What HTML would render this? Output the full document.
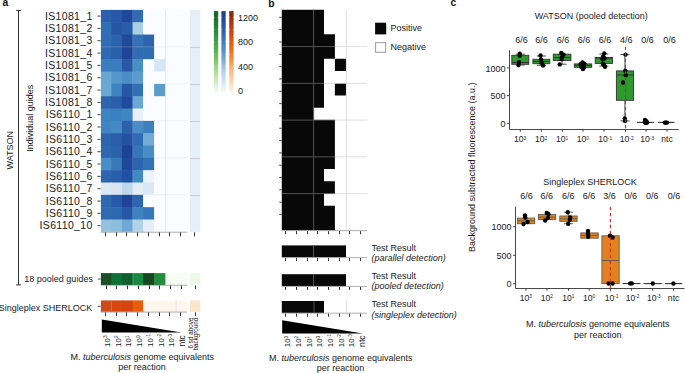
<!DOCTYPE html>
<html><head><meta charset="utf-8"><title>Figure</title>
<style>
html,body{margin:0;padding:0;background:#fff;width:685px;height:373px;overflow:hidden;}
svg{display:block;font-family:"Liberation Sans", sans-serif;}
</style></head>
<body><svg width="685" height="373" viewBox="0 0 685 373">
<rect x="0" y="0" width="685" height="373" fill="#fff"/>
<text x="2.40" y="6.00" font-size="10.3" text-anchor="start" font-style="normal" font-weight="bold" fill="#111" >a</text>
<line x1="18.50" y1="10.40" x2="18.50" y2="284.90" stroke="#333" stroke-width="1" />
<line x1="16.10" y1="10.40" x2="20.90" y2="10.40" stroke="#333" stroke-width="1" />
<line x1="16.10" y1="284.90" x2="20.90" y2="284.90" stroke="#333" stroke-width="1" />
<text x="0" y="0" font-size="9" text-anchor="middle" fill="#1a1a1a" transform="translate(12.9,150.2) rotate(-90)">WATSON</text>
<text x="0" y="0" font-size="9" text-anchor="middle" fill="#1a1a1a" transform="translate(33.3,118.2) rotate(-90)">Individual guides</text>
<rect x="100.90" y="9.90" width="11.10" height="12.93" fill="#2a5fae" />
<rect x="111.40" y="9.90" width="11.10" height="12.93" fill="#2858a8" />
<rect x="121.90" y="9.90" width="11.40" height="12.93" fill="#1f489c" />
<rect x="132.70" y="9.90" width="11.00" height="12.93" fill="#306cb4" />
<rect x="143.10" y="9.90" width="11.60" height="12.93" fill="#fafcff" />
<rect x="154.10" y="9.90" width="11.90" height="12.93" fill="#fafcff" />
<rect x="165.40" y="9.90" width="11.30" height="12.93" fill="#fafcff" />
<rect x="176.10" y="9.90" width="10.70" height="12.93" fill="#fafcff" />
<rect x="100.90" y="22.23" width="11.10" height="12.93" fill="#2f6db4" />
<rect x="111.40" y="22.23" width="11.10" height="12.93" fill="#2556a6" />
<rect x="121.90" y="22.23" width="11.40" height="12.93" fill="#2a5ca8" />
<rect x="132.70" y="22.23" width="11.00" height="12.93" fill="#a9cfe2" />
<rect x="143.10" y="22.23" width="11.60" height="12.93" fill="#fafcff" />
<rect x="154.10" y="22.23" width="11.90" height="12.93" fill="#fafcff" />
<rect x="165.40" y="22.23" width="11.30" height="12.93" fill="#fafcff" />
<rect x="176.10" y="22.23" width="10.70" height="12.93" fill="#fafcff" />
<rect x="100.90" y="34.56" width="11.10" height="12.93" fill="#2f6cb4" />
<rect x="111.40" y="34.56" width="11.10" height="12.93" fill="#2b63ad" />
<rect x="121.90" y="34.56" width="11.40" height="12.93" fill="#1f4a9c" />
<rect x="132.70" y="34.56" width="11.00" height="12.93" fill="#3472b8" />
<rect x="143.10" y="34.56" width="11.60" height="12.93" fill="#2d64ad" />
<rect x="154.10" y="34.56" width="11.90" height="12.93" fill="#fafcff" />
<rect x="165.40" y="34.56" width="11.30" height="12.93" fill="#fafcff" />
<rect x="176.10" y="34.56" width="10.70" height="12.93" fill="#fafcff" />
<rect x="100.90" y="46.89" width="11.10" height="12.93" fill="#2e6ab2" />
<rect x="111.40" y="46.89" width="11.10" height="12.93" fill="#2a60aa" />
<rect x="121.90" y="46.89" width="11.40" height="12.93" fill="#1e4597" />
<rect x="132.70" y="46.89" width="11.00" height="12.93" fill="#2f6cb3" />
<rect x="143.10" y="46.89" width="11.60" height="12.93" fill="#2f6cb3" />
<rect x="154.10" y="46.89" width="11.90" height="12.93" fill="#fafcff" />
<rect x="165.40" y="46.89" width="11.30" height="12.93" fill="#fafcff" />
<rect x="176.10" y="46.89" width="10.70" height="12.93" fill="#fafcff" />
<rect x="100.90" y="59.22" width="11.10" height="12.93" fill="#3a7cbe" />
<rect x="111.40" y="59.22" width="11.10" height="12.93" fill="#3a7cbe" />
<rect x="121.90" y="59.22" width="11.40" height="12.93" fill="#2858a8" />
<rect x="132.70" y="59.22" width="11.00" height="12.93" fill="#4a8ec6" />
<rect x="143.10" y="59.22" width="11.60" height="12.93" fill="#fafcff" />
<rect x="154.10" y="59.22" width="11.90" height="12.93" fill="#d7e6f5" />
<rect x="165.40" y="59.22" width="11.30" height="12.93" fill="#fafcff" />
<rect x="176.10" y="59.22" width="10.70" height="12.93" fill="#fafcff" />
<rect x="100.90" y="71.55" width="11.10" height="12.93" fill="#68a6d4" />
<rect x="111.40" y="71.55" width="11.10" height="12.93" fill="#5596cb" />
<rect x="121.90" y="71.55" width="11.40" height="12.93" fill="#4a8ec8" />
<rect x="132.70" y="71.55" width="11.00" height="12.93" fill="#5b9bcf" />
<rect x="143.10" y="71.55" width="11.60" height="12.93" fill="#fafcff" />
<rect x="154.10" y="71.55" width="11.90" height="12.93" fill="#fafcff" />
<rect x="165.40" y="71.55" width="11.30" height="12.93" fill="#fafcff" />
<rect x="176.10" y="71.55" width="10.70" height="12.93" fill="#fafcff" />
<rect x="100.90" y="83.88" width="11.10" height="12.93" fill="#6aa7d4" />
<rect x="111.40" y="83.88" width="11.10" height="12.93" fill="#3f82c0" />
<rect x="121.90" y="83.88" width="11.40" height="12.93" fill="#2656a6" />
<rect x="132.70" y="83.88" width="11.00" height="12.93" fill="#3270b6" />
<rect x="143.10" y="83.88" width="11.60" height="12.93" fill="#fafcff" />
<rect x="154.10" y="83.88" width="11.90" height="12.93" fill="#5b9dcb" />
<rect x="165.40" y="83.88" width="11.30" height="12.93" fill="#fafcff" />
<rect x="176.10" y="83.88" width="10.70" height="12.93" fill="#fafcff" />
<rect x="100.90" y="96.21" width="11.10" height="12.93" fill="#2c64ae" />
<rect x="111.40" y="96.21" width="11.10" height="12.93" fill="#2a5ea9" />
<rect x="121.90" y="96.21" width="11.40" height="12.93" fill="#1f4a9d" />
<rect x="132.70" y="96.21" width="11.00" height="12.93" fill="#6aa8d4" />
<rect x="143.10" y="96.21" width="11.60" height="12.93" fill="#fafcff" />
<rect x="154.10" y="96.21" width="11.90" height="12.93" fill="#fafcff" />
<rect x="165.40" y="96.21" width="11.30" height="12.93" fill="#fafcff" />
<rect x="176.10" y="96.21" width="10.70" height="12.93" fill="#fafcff" />
<rect x="100.90" y="108.54" width="11.10" height="12.93" fill="#3d84c2" />
<rect x="111.40" y="108.54" width="11.10" height="12.93" fill="#3a7fc0" />
<rect x="121.90" y="108.54" width="11.40" height="12.93" fill="#3e85c2" />
<rect x="132.70" y="108.54" width="11.00" height="12.93" fill="#e8f0f9" />
<rect x="143.10" y="108.54" width="11.60" height="12.93" fill="#fafcff" />
<rect x="154.10" y="108.54" width="11.90" height="12.93" fill="#fafcff" />
<rect x="165.40" y="108.54" width="11.30" height="12.93" fill="#fafcff" />
<rect x="176.10" y="108.54" width="10.70" height="12.93" fill="#fafcff" />
<rect x="100.90" y="120.87" width="11.10" height="12.93" fill="#3f85c3" />
<rect x="111.40" y="120.87" width="11.10" height="12.93" fill="#4489c5" />
<rect x="121.90" y="120.87" width="11.40" height="12.93" fill="#2c60ab" />
<rect x="132.70" y="120.87" width="11.00" height="12.93" fill="#4a8dc6" />
<rect x="143.10" y="120.87" width="11.60" height="12.93" fill="#3d80c0" />
<rect x="154.10" y="120.87" width="11.90" height="12.93" fill="#fafcff" />
<rect x="165.40" y="120.87" width="11.30" height="12.93" fill="#fafcff" />
<rect x="176.10" y="120.87" width="10.70" height="12.93" fill="#fafcff" />
<rect x="100.90" y="133.20" width="11.10" height="12.93" fill="#2c64ae" />
<rect x="111.40" y="133.20" width="11.10" height="12.93" fill="#2a5ea9" />
<rect x="121.90" y="133.20" width="11.40" height="12.93" fill="#2451a3" />
<rect x="132.70" y="133.20" width="11.00" height="12.93" fill="#306cb4" />
<rect x="143.10" y="133.20" width="11.60" height="12.93" fill="#70acd6" />
<rect x="154.10" y="133.20" width="11.90" height="12.93" fill="#fafcff" />
<rect x="165.40" y="133.20" width="11.30" height="12.93" fill="#fafcff" />
<rect x="176.10" y="133.20" width="10.70" height="12.93" fill="#fafcff" />
<rect x="100.90" y="145.53" width="11.10" height="12.93" fill="#2e68b1" />
<rect x="111.40" y="145.53" width="11.10" height="12.93" fill="#2c62ac" />
<rect x="121.90" y="145.53" width="11.40" height="12.93" fill="#1d4394" />
<rect x="132.70" y="145.53" width="11.00" height="12.93" fill="#3677bb" />
<rect x="143.10" y="145.53" width="11.60" height="12.93" fill="#4a8dc6" />
<rect x="154.10" y="145.53" width="11.90" height="12.93" fill="#fafcff" />
<rect x="165.40" y="145.53" width="11.30" height="12.93" fill="#fafcff" />
<rect x="176.10" y="145.53" width="10.70" height="12.93" fill="#fafcff" />
<rect x="100.90" y="157.86" width="11.10" height="12.93" fill="#4a8ec7" />
<rect x="111.40" y="157.86" width="11.10" height="12.93" fill="#3879bc" />
<rect x="121.90" y="157.86" width="11.40" height="12.93" fill="#1f4a9c" />
<rect x="132.70" y="157.86" width="11.00" height="12.93" fill="#2c64ae" />
<rect x="143.10" y="157.86" width="11.60" height="12.93" fill="#3172b7" />
<rect x="154.10" y="157.86" width="11.90" height="12.93" fill="#fafcff" />
<rect x="165.40" y="157.86" width="11.30" height="12.93" fill="#fafcff" />
<rect x="176.10" y="157.86" width="10.70" height="12.93" fill="#fafcff" />
<rect x="100.90" y="170.19" width="11.10" height="12.93" fill="#2c66af" />
<rect x="111.40" y="170.19" width="11.10" height="12.93" fill="#2a5fab" />
<rect x="121.90" y="170.19" width="11.40" height="12.93" fill="#2151a2" />
<rect x="132.70" y="170.19" width="11.00" height="12.93" fill="#4289c5" />
<rect x="143.10" y="170.19" width="11.60" height="12.93" fill="#edf3fb" />
<rect x="154.10" y="170.19" width="11.90" height="12.93" fill="#fafcff" />
<rect x="165.40" y="170.19" width="11.30" height="12.93" fill="#fafcff" />
<rect x="176.10" y="170.19" width="10.70" height="12.93" fill="#fafcff" />
<rect x="100.90" y="182.52" width="11.10" height="12.93" fill="#dde9f6" />
<rect x="111.40" y="182.52" width="11.10" height="12.93" fill="#d8e6f4" />
<rect x="121.90" y="182.52" width="11.40" height="12.93" fill="#bcd8ea" />
<rect x="132.70" y="182.52" width="11.00" height="12.93" fill="#e3edf8" />
<rect x="143.10" y="182.52" width="11.60" height="12.93" fill="#dae7f5" />
<rect x="154.10" y="182.52" width="11.90" height="12.93" fill="#fafcff" />
<rect x="165.40" y="182.52" width="11.30" height="12.93" fill="#fafcff" />
<rect x="176.10" y="182.52" width="10.70" height="12.93" fill="#fafcff" />
<rect x="100.90" y="194.85" width="11.10" height="12.93" fill="#2e6ab2" />
<rect x="111.40" y="194.85" width="11.10" height="12.93" fill="#2858a8" />
<rect x="121.90" y="194.85" width="11.40" height="12.93" fill="#1d4496" />
<rect x="132.70" y="194.85" width="11.00" height="12.93" fill="#2d66af" />
<rect x="143.10" y="194.85" width="11.60" height="12.93" fill="#fafcff" />
<rect x="154.10" y="194.85" width="11.90" height="12.93" fill="#fafcff" />
<rect x="165.40" y="194.85" width="11.30" height="12.93" fill="#fafcff" />
<rect x="176.10" y="194.85" width="10.70" height="12.93" fill="#fafcff" />
<rect x="100.90" y="207.18" width="11.10" height="12.93" fill="#2e6ab2" />
<rect x="111.40" y="207.18" width="11.10" height="12.93" fill="#2e68b1" />
<rect x="121.90" y="207.18" width="11.40" height="12.93" fill="#2656a6" />
<rect x="132.70" y="207.18" width="11.00" height="12.93" fill="#3d82c0" />
<rect x="143.10" y="207.18" width="11.60" height="12.93" fill="#3677bb" />
<rect x="154.10" y="207.18" width="11.90" height="12.93" fill="#fafcff" />
<rect x="165.40" y="207.18" width="11.30" height="12.93" fill="#fafcff" />
<rect x="176.10" y="207.18" width="10.70" height="12.93" fill="#fafcff" />
<rect x="100.90" y="219.51" width="11.10" height="12.33" fill="#92c2df" />
<rect x="111.40" y="219.51" width="11.10" height="12.33" fill="#8dbfdd" />
<rect x="121.90" y="219.51" width="11.40" height="12.33" fill="#6eaad5" />
<rect x="132.70" y="219.51" width="11.00" height="12.33" fill="#b3d3e8" />
<rect x="143.10" y="219.51" width="11.60" height="12.33" fill="#e6eff9" />
<rect x="154.10" y="219.51" width="11.90" height="12.33" fill="#fafcff" />
<rect x="165.40" y="219.51" width="11.30" height="12.33" fill="#fafcff" />
<rect x="176.10" y="219.51" width="10.70" height="12.33" fill="#fafcff" />
<rect x="190.10" y="9.90" width="10.10" height="221.94" fill="#e6eef9" />
<line x1="165.40" y1="9.90" x2="165.40" y2="231.84" stroke="#e2e4e8" stroke-width="0.8" />
<line x1="132.70" y1="9.90" x2="132.70" y2="231.84" stroke="rgba(255,255,255,0.18)" stroke-width="0.8" />
<line x1="100.80" y1="46.89" x2="186.80" y2="46.89" stroke="rgba(200,205,215,0.35)" stroke-width="0.8" />
<line x1="190.10" y1="47.59" x2="200.10" y2="47.59" stroke="#c6c9cf" stroke-width="0.9" />
<line x1="165.40" y1="83.88" x2="186.80" y2="83.88" stroke="rgba(200,205,215,0.35)" stroke-width="0.8" />
<line x1="190.10" y1="84.58" x2="200.10" y2="84.58" stroke="#c6c9cf" stroke-width="0.9" />
<line x1="154.10" y1="120.87" x2="186.80" y2="120.87" stroke="rgba(200,205,215,0.35)" stroke-width="0.8" />
<line x1="190.10" y1="121.57" x2="200.10" y2="121.57" stroke="#c6c9cf" stroke-width="0.9" />
<line x1="154.10" y1="157.86" x2="186.80" y2="157.86" stroke="rgba(200,205,215,0.35)" stroke-width="0.8" />
<line x1="190.10" y1="158.56" x2="200.10" y2="158.56" stroke="#c6c9cf" stroke-width="0.9" />
<line x1="154.10" y1="194.85" x2="186.80" y2="194.85" stroke="rgba(200,205,215,0.35)" stroke-width="0.8" />
<line x1="190.10" y1="195.55" x2="200.10" y2="195.55" stroke="#c6c9cf" stroke-width="0.9" />
<text x="92.60" y="19.82" font-size="10.5" text-anchor="end" font-style="normal" font-weight="normal" fill="#1a1a1a" letter-spacing="0.33">IS1081_1</text>
<line x1="97.40" y1="16.07" x2="100.60" y2="16.07" stroke="#333" stroke-width="0.9" />
<text x="92.60" y="32.15" font-size="10.5" text-anchor="end" font-style="normal" font-weight="normal" fill="#1a1a1a" letter-spacing="0.33">IS1081_2</text>
<line x1="97.40" y1="28.40" x2="100.60" y2="28.40" stroke="#333" stroke-width="0.9" />
<text x="92.60" y="44.48" font-size="10.5" text-anchor="end" font-style="normal" font-weight="normal" fill="#1a1a1a" letter-spacing="0.33">IS1081_3</text>
<line x1="97.40" y1="40.73" x2="100.60" y2="40.73" stroke="#333" stroke-width="0.9" />
<text x="92.60" y="56.80" font-size="10.5" text-anchor="end" font-style="normal" font-weight="normal" fill="#1a1a1a" letter-spacing="0.33">IS1081_4</text>
<line x1="97.40" y1="53.05" x2="100.60" y2="53.05" stroke="#333" stroke-width="0.9" />
<text x="92.60" y="69.14" font-size="10.5" text-anchor="end" font-style="normal" font-weight="normal" fill="#1a1a1a" letter-spacing="0.33">IS1081_5</text>
<line x1="97.40" y1="65.39" x2="100.60" y2="65.39" stroke="#333" stroke-width="0.9" />
<text x="92.60" y="81.47" font-size="10.5" text-anchor="end" font-style="normal" font-weight="normal" fill="#1a1a1a" letter-spacing="0.33">IS1081_6</text>
<line x1="97.40" y1="77.72" x2="100.60" y2="77.72" stroke="#333" stroke-width="0.9" />
<text x="92.60" y="93.80" font-size="10.5" text-anchor="end" font-style="normal" font-weight="normal" fill="#1a1a1a" letter-spacing="0.33">IS1081_7</text>
<line x1="97.40" y1="90.05" x2="100.60" y2="90.05" stroke="#333" stroke-width="0.9" />
<text x="92.60" y="106.12" font-size="10.5" text-anchor="end" font-style="normal" font-weight="normal" fill="#1a1a1a" letter-spacing="0.33">IS1081_8</text>
<line x1="97.40" y1="102.38" x2="100.60" y2="102.38" stroke="#333" stroke-width="0.9" />
<text x="92.60" y="118.46" font-size="10.5" text-anchor="end" font-style="normal" font-weight="normal" fill="#1a1a1a" letter-spacing="0.33">IS6110_1</text>
<line x1="97.40" y1="114.71" x2="100.60" y2="114.71" stroke="#333" stroke-width="0.9" />
<text x="92.60" y="130.79" font-size="10.5" text-anchor="end" font-style="normal" font-weight="normal" fill="#1a1a1a" letter-spacing="0.33">IS6110_2</text>
<line x1="97.40" y1="127.04" x2="100.60" y2="127.04" stroke="#333" stroke-width="0.9" />
<text x="92.60" y="143.12" font-size="10.5" text-anchor="end" font-style="normal" font-weight="normal" fill="#1a1a1a" letter-spacing="0.33">IS6110_3</text>
<line x1="97.40" y1="139.37" x2="100.60" y2="139.37" stroke="#333" stroke-width="0.9" />
<text x="92.60" y="155.44" font-size="10.5" text-anchor="end" font-style="normal" font-weight="normal" fill="#1a1a1a" letter-spacing="0.33">IS6110_4</text>
<line x1="97.40" y1="151.69" x2="100.60" y2="151.69" stroke="#333" stroke-width="0.9" />
<text x="92.60" y="167.78" font-size="10.5" text-anchor="end" font-style="normal" font-weight="normal" fill="#1a1a1a" letter-spacing="0.33">IS6110_5</text>
<line x1="97.40" y1="164.03" x2="100.60" y2="164.03" stroke="#333" stroke-width="0.9" />
<text x="92.60" y="180.11" font-size="10.5" text-anchor="end" font-style="normal" font-weight="normal" fill="#1a1a1a" letter-spacing="0.33">IS6110_6</text>
<line x1="97.40" y1="176.36" x2="100.60" y2="176.36" stroke="#333" stroke-width="0.9" />
<text x="92.60" y="192.44" font-size="10.5" text-anchor="end" font-style="normal" font-weight="normal" fill="#1a1a1a" letter-spacing="0.33">IS6110_7</text>
<line x1="97.40" y1="188.69" x2="100.60" y2="188.69" stroke="#333" stroke-width="0.9" />
<text x="92.60" y="204.77" font-size="10.5" text-anchor="end" font-style="normal" font-weight="normal" fill="#1a1a1a" letter-spacing="0.33">IS6110_8</text>
<line x1="97.40" y1="201.02" x2="100.60" y2="201.02" stroke="#333" stroke-width="0.9" />
<text x="92.60" y="217.09" font-size="10.5" text-anchor="end" font-style="normal" font-weight="normal" fill="#1a1a1a" letter-spacing="0.33">IS6110_9</text>
<line x1="97.40" y1="213.34" x2="100.60" y2="213.34" stroke="#333" stroke-width="0.9" />
<text x="92.60" y="229.43" font-size="10.5" text-anchor="end" font-style="normal" font-weight="normal" fill="#1a1a1a" letter-spacing="0.33">IS6110_10</text>
<line x1="97.40" y1="225.68" x2="100.60" y2="225.68" stroke="#333" stroke-width="0.9" />
<line x1="100.60" y1="232.24" x2="187.06" y2="232.24" stroke="#9a9a9a" stroke-width="0.8" />
<line x1="105.50" y1="232.34" x2="105.50" y2="236.34" stroke="#333" stroke-width="1"/>
<line x1="116.50" y1="232.34" x2="116.50" y2="236.34" stroke="#333" stroke-width="1"/>
<line x1="126.50" y1="232.34" x2="126.50" y2="236.34" stroke="#333" stroke-width="1"/>
<line x1="137.50" y1="232.34" x2="137.50" y2="236.34" stroke="#333" stroke-width="1"/>
<line x1="148.50" y1="232.34" x2="148.50" y2="236.34" stroke="#333" stroke-width="1"/>
<line x1="159.50" y1="232.34" x2="159.50" y2="236.34" stroke="#333" stroke-width="1"/>
<line x1="169.50" y1="232.34" x2="169.50" y2="236.34" stroke="#333" stroke-width="1"/>
<line x1="180.50" y1="232.34" x2="180.50" y2="236.34" stroke="#333" stroke-width="1"/>
<line x1="194.50" y1="232.34" x2="194.50" y2="236.34" stroke="#333" stroke-width="1"/>
<defs>
<linearGradient id="gG" x1="0" y1="0" x2="0" y2="1"><stop offset="0" stop-color="#11622c"/><stop offset="0.25" stop-color="#2a8a3c"/><stop offset="0.5" stop-color="#5bb54f"/><stop offset="0.75" stop-color="#b0e09a"/><stop offset="1" stop-color="#f7fcf5"/></linearGradient>
<linearGradient id="gB" x1="0" y1="0" x2="0" y2="1"><stop offset="0" stop-color="#1f3a8a"/><stop offset="0.25" stop-color="#2b62ad"/><stop offset="0.5" stop-color="#5295cc"/><stop offset="0.75" stop-color="#b4d3ea"/><stop offset="1" stop-color="#f7fbff"/></linearGradient>
<linearGradient id="gO" x1="0" y1="0" x2="0" y2="1"><stop offset="0" stop-color="#7f2a0a"/><stop offset="0.25" stop-color="#cf440c"/><stop offset="0.5" stop-color="#f2761c"/><stop offset="0.75" stop-color="#fdbf8a"/><stop offset="1" stop-color="#fff5eb"/></linearGradient>
</defs>
<rect x="213.90" y="11.10" width="4.30" height="81.60" fill="url(#gG)" />
<rect x="221.40" y="11.10" width="4.30" height="81.60" fill="url(#gB)" />
<rect x="229.20" y="11.10" width="4.40" height="81.60" fill="url(#gO)" />
<text x="237.90" y="20.50" font-size="9" text-anchor="start" font-style="normal" font-weight="normal" fill="#1a1a1a" >1200</text>
<text x="237.90" y="45.03" font-size="9" text-anchor="start" font-style="normal" font-weight="normal" fill="#1a1a1a" >800</text>
<text x="237.90" y="69.57" font-size="9" text-anchor="start" font-style="normal" font-weight="normal" fill="#1a1a1a" >400</text>
<text x="237.90" y="94.10" font-size="9" text-anchor="start" font-style="normal" font-weight="normal" fill="#1a1a1a" >0</text>
<line x1="213.90" y1="90.90" x2="214.80" y2="90.90" stroke="rgba(255,255,255,0.6)" stroke-width="0.6" />
<line x1="217.40" y1="90.90" x2="218.30" y2="90.90" stroke="rgba(255,255,255,0.6)" stroke-width="0.6" />
<line x1="221.40" y1="90.90" x2="222.30" y2="90.90" stroke="rgba(255,255,255,0.6)" stroke-width="0.6" />
<line x1="224.90" y1="90.90" x2="225.80" y2="90.90" stroke="rgba(255,255,255,0.6)" stroke-width="0.6" />
<line x1="229.20" y1="90.90" x2="230.10" y2="90.90" stroke="rgba(255,255,255,0.6)" stroke-width="0.6" />
<line x1="232.70" y1="90.90" x2="233.60" y2="90.90" stroke="rgba(255,255,255,0.6)" stroke-width="0.6" />
<line x1="213.90" y1="78.63" x2="214.80" y2="78.63" stroke="rgba(255,255,255,0.6)" stroke-width="0.6" />
<line x1="217.40" y1="78.63" x2="218.30" y2="78.63" stroke="rgba(255,255,255,0.6)" stroke-width="0.6" />
<line x1="221.40" y1="78.63" x2="222.30" y2="78.63" stroke="rgba(255,255,255,0.6)" stroke-width="0.6" />
<line x1="224.90" y1="78.63" x2="225.80" y2="78.63" stroke="rgba(255,255,255,0.6)" stroke-width="0.6" />
<line x1="229.20" y1="78.63" x2="230.10" y2="78.63" stroke="rgba(255,255,255,0.6)" stroke-width="0.6" />
<line x1="232.70" y1="78.63" x2="233.60" y2="78.63" stroke="rgba(255,255,255,0.6)" stroke-width="0.6" />
<line x1="213.90" y1="66.37" x2="214.80" y2="66.37" stroke="rgba(255,255,255,0.6)" stroke-width="0.6" />
<line x1="217.40" y1="66.37" x2="218.30" y2="66.37" stroke="rgba(255,255,255,0.6)" stroke-width="0.6" />
<line x1="221.40" y1="66.37" x2="222.30" y2="66.37" stroke="rgba(255,255,255,0.6)" stroke-width="0.6" />
<line x1="224.90" y1="66.37" x2="225.80" y2="66.37" stroke="rgba(255,255,255,0.6)" stroke-width="0.6" />
<line x1="229.20" y1="66.37" x2="230.10" y2="66.37" stroke="rgba(255,255,255,0.6)" stroke-width="0.6" />
<line x1="232.70" y1="66.37" x2="233.60" y2="66.37" stroke="rgba(255,255,255,0.6)" stroke-width="0.6" />
<line x1="213.90" y1="54.10" x2="214.80" y2="54.10" stroke="rgba(255,255,255,0.6)" stroke-width="0.6" />
<line x1="217.40" y1="54.10" x2="218.30" y2="54.10" stroke="rgba(255,255,255,0.6)" stroke-width="0.6" />
<line x1="221.40" y1="54.10" x2="222.30" y2="54.10" stroke="rgba(255,255,255,0.6)" stroke-width="0.6" />
<line x1="224.90" y1="54.10" x2="225.80" y2="54.10" stroke="rgba(255,255,255,0.6)" stroke-width="0.6" />
<line x1="229.20" y1="54.10" x2="230.10" y2="54.10" stroke="rgba(255,255,255,0.6)" stroke-width="0.6" />
<line x1="232.70" y1="54.10" x2="233.60" y2="54.10" stroke="rgba(255,255,255,0.6)" stroke-width="0.6" />
<line x1="213.90" y1="41.83" x2="214.80" y2="41.83" stroke="rgba(255,255,255,0.6)" stroke-width="0.6" />
<line x1="217.40" y1="41.83" x2="218.30" y2="41.83" stroke="rgba(255,255,255,0.6)" stroke-width="0.6" />
<line x1="221.40" y1="41.83" x2="222.30" y2="41.83" stroke="rgba(255,255,255,0.6)" stroke-width="0.6" />
<line x1="224.90" y1="41.83" x2="225.80" y2="41.83" stroke="rgba(255,255,255,0.6)" stroke-width="0.6" />
<line x1="229.20" y1="41.83" x2="230.10" y2="41.83" stroke="rgba(255,255,255,0.6)" stroke-width="0.6" />
<line x1="232.70" y1="41.83" x2="233.60" y2="41.83" stroke="rgba(255,255,255,0.6)" stroke-width="0.6" />
<line x1="213.90" y1="29.57" x2="214.80" y2="29.57" stroke="rgba(255,255,255,0.6)" stroke-width="0.6" />
<line x1="217.40" y1="29.57" x2="218.30" y2="29.57" stroke="rgba(255,255,255,0.6)" stroke-width="0.6" />
<line x1="221.40" y1="29.57" x2="222.30" y2="29.57" stroke="rgba(255,255,255,0.6)" stroke-width="0.6" />
<line x1="224.90" y1="29.57" x2="225.80" y2="29.57" stroke="rgba(255,255,255,0.6)" stroke-width="0.6" />
<line x1="229.20" y1="29.57" x2="230.10" y2="29.57" stroke="rgba(255,255,255,0.6)" stroke-width="0.6" />
<line x1="232.70" y1="29.57" x2="233.60" y2="29.57" stroke="rgba(255,255,255,0.6)" stroke-width="0.6" />
<line x1="213.90" y1="17.30" x2="214.80" y2="17.30" stroke="rgba(255,255,255,0.6)" stroke-width="0.6" />
<line x1="217.40" y1="17.30" x2="218.30" y2="17.30" stroke="rgba(255,255,255,0.6)" stroke-width="0.6" />
<line x1="221.40" y1="17.30" x2="222.30" y2="17.30" stroke="rgba(255,255,255,0.6)" stroke-width="0.6" />
<line x1="224.90" y1="17.30" x2="225.80" y2="17.30" stroke="rgba(255,255,255,0.6)" stroke-width="0.6" />
<line x1="229.20" y1="17.30" x2="230.10" y2="17.30" stroke="rgba(255,255,255,0.6)" stroke-width="0.6" />
<line x1="232.70" y1="17.30" x2="233.60" y2="17.30" stroke="rgba(255,255,255,0.6)" stroke-width="0.6" />
<rect x="100.90" y="273.10" width="11.10" height="11.90" fill="#1a4f26" />
<rect x="111.40" y="273.10" width="11.10" height="11.90" fill="#0e7135" />
<rect x="121.90" y="273.10" width="11.40" height="11.90" fill="#0f5f30" />
<rect x="132.70" y="273.10" width="11.00" height="11.90" fill="#178a3f" />
<rect x="143.10" y="273.10" width="11.60" height="11.90" fill="#17461f" />
<rect x="154.10" y="273.10" width="11.90" height="11.90" fill="#238b3c" />
<rect x="165.40" y="273.10" width="11.30" height="11.90" fill="#f7fcf5" />
<rect x="176.10" y="273.10" width="10.70" height="11.90" fill="#f7fcf5" />
<rect x="189.80" y="273.10" width="10.50" height="11.90" fill="#ecf8e8" />
<line x1="133.00" y1="273.10" x2="133.00" y2="285.00" stroke="rgba(255,255,255,0.25)" stroke-width="0.8" />
<line x1="100.60" y1="285.30" x2="187.06" y2="285.30" stroke="#9a9a9a" stroke-width="0.8" />
<line x1="106.50" y1="285.50" x2="106.50" y2="289.20" stroke="#333" stroke-width="1"/>
<line x1="116.50" y1="285.50" x2="116.50" y2="289.20" stroke="#333" stroke-width="1"/>
<line x1="127.50" y1="285.50" x2="127.50" y2="289.20" stroke="#333" stroke-width="1"/>
<line x1="138.50" y1="285.50" x2="138.50" y2="289.20" stroke="#333" stroke-width="1"/>
<line x1="149.50" y1="285.50" x2="149.50" y2="289.20" stroke="#333" stroke-width="1"/>
<line x1="159.50" y1="285.50" x2="159.50" y2="289.20" stroke="#333" stroke-width="1"/>
<line x1="170.50" y1="285.50" x2="170.50" y2="289.20" stroke="#333" stroke-width="1"/>
<line x1="181.50" y1="285.50" x2="181.50" y2="289.20" stroke="#333" stroke-width="1"/>
<line x1="195.50" y1="285.50" x2="195.50" y2="289.20" stroke="#333" stroke-width="1"/>
<line x1="97.80" y1="279.00" x2="100.60" y2="279.00" stroke="#333" stroke-width="0.9" />
<text x="92.90" y="281.90" font-size="9" text-anchor="end" font-style="normal" font-weight="normal" fill="#1a1a1a" >18 pooled guides</text>
<rect x="100.90" y="300.40" width="11.10" height="11.40" fill="#d04a18" />
<rect x="111.40" y="300.40" width="11.10" height="11.40" fill="#d9470f" />
<rect x="121.90" y="300.40" width="11.40" height="11.40" fill="#d5460f" />
<rect x="132.70" y="300.40" width="11.00" height="11.40" fill="#e85d0c" />
<rect x="143.10" y="300.40" width="11.60" height="11.40" fill="#fff6ee" />
<rect x="154.10" y="300.40" width="11.90" height="11.40" fill="#fff6ee" />
<rect x="165.40" y="300.40" width="11.30" height="11.40" fill="#fff6ee" />
<rect x="176.10" y="300.40" width="10.70" height="11.40" fill="#fff6ee" />
<rect x="190.00" y="300.40" width="10.30" height="11.40" fill="#fde6cc" />
<line x1="111.40" y1="300.40" x2="111.40" y2="311.80" stroke="rgba(255,255,255,0.25)" stroke-width="0.8" />
<line x1="176.10" y1="300.40" x2="176.10" y2="311.80" stroke="rgba(200,190,180,0.4)" stroke-width="0.8" />
<line x1="100.60" y1="312.10" x2="187.06" y2="312.10" stroke="#9a9a9a" stroke-width="0.8" />
<line x1="105.50" y1="312.40" x2="105.50" y2="316.10" stroke="#333" stroke-width="1"/>
<line x1="116.50" y1="312.40" x2="116.50" y2="316.10" stroke="#333" stroke-width="1"/>
<line x1="126.50" y1="312.40" x2="126.50" y2="316.10" stroke="#333" stroke-width="1"/>
<line x1="137.50" y1="312.40" x2="137.50" y2="316.10" stroke="#333" stroke-width="1"/>
<line x1="148.50" y1="312.40" x2="148.50" y2="316.10" stroke="#333" stroke-width="1"/>
<line x1="159.50" y1="312.40" x2="159.50" y2="316.10" stroke="#333" stroke-width="1"/>
<line x1="169.50" y1="312.40" x2="169.50" y2="316.10" stroke="#333" stroke-width="1"/>
<line x1="180.50" y1="312.40" x2="180.50" y2="316.10" stroke="#333" stroke-width="1"/>
<line x1="195.50" y1="312.40" x2="195.50" y2="316.10" stroke="#333" stroke-width="1"/>
<line x1="97.80" y1="306.30" x2="100.60" y2="306.30" stroke="#333" stroke-width="0.9" />
<text x="92.30" y="310.50" font-size="9" text-anchor="end" font-style="normal" font-weight="normal" fill="#1a1a1a" >Singleplex SHERLOCK</text>
<polygon points="101.8,319.6 101.8,332.4 181.4,332.4" fill="#000"/>
<text x="0" y="0" font-size="7.9" text-anchor="start" fill="#1a1a1a" transform="translate(109.90,346.90) rotate(-90)">10<tspan font-size="4.7" dy="-2.5">3</tspan></text>
<text x="0" y="0" font-size="7.9" text-anchor="start" fill="#1a1a1a" transform="translate(120.64,346.90) rotate(-90)">10<tspan font-size="4.7" dy="-2.5">2</tspan></text>
<text x="0" y="0" font-size="7.9" text-anchor="start" fill="#1a1a1a" transform="translate(131.38,346.90) rotate(-90)">10<tspan font-size="4.7" dy="-2.5">1</tspan></text>
<text x="0" y="0" font-size="7.9" text-anchor="start" fill="#1a1a1a" transform="translate(142.12,346.90) rotate(-90)">10<tspan font-size="4.7" dy="-2.5">0</tspan></text>
<text x="0" y="0" font-size="7.9" text-anchor="start" fill="#1a1a1a" transform="translate(152.86,346.90) rotate(-90)">10<tspan font-size="4.7" dy="-2.5">-1</tspan></text>
<text x="0" y="0" font-size="7.9" text-anchor="start" fill="#1a1a1a" transform="translate(163.60,346.90) rotate(-90)">10<tspan font-size="4.7" dy="-2.5">-2</tspan></text>
<text x="0" y="0" font-size="7.9" text-anchor="start" fill="#1a1a1a" transform="translate(174.34,346.90) rotate(-90)">10<tspan font-size="4.7" dy="-2.5">-3</tspan></text>
<text x="0" y="0" font-size="8.6" text-anchor="start" fill="#1a1a1a" transform="translate(184.98,346.60) rotate(-90)">ntc</text>
<text x="0" y="0" font-size="6.3" text-anchor="end" fill="#111" transform="translate(193.0,317.7) rotate(-90)">6 sd above</text>
<text x="0" y="0" font-size="6.3" text-anchor="end" fill="#111" transform="translate(197.6,317.7) rotate(-90)">background</text>
<text x="142.20" y="360.20" font-size="9" text-anchor="middle" font-style="normal" font-weight="normal" fill="#1a1a1a" >M. <tspan font-style="italic">tuberculosis</tspan> genome equivalents</text>
<text x="141.90" y="370.30" font-size="9" text-anchor="middle" font-style="normal" font-weight="normal" fill="#1a1a1a" >per reaction</text>
<text x="268.20" y="6.60" font-size="10.3" text-anchor="start" font-style="normal" font-weight="bold" fill="#111" >b</text>
<path d="M281.80,9.85H324.00v12.25H281.80z M281.80,22.10H324.00v12.25H281.80z M281.80,34.35H334.90v12.25H281.80z M281.80,46.60H334.90v12.25H281.80z M281.80,58.85H324.00v12.25H281.80z M334.90,58.85H346.00v12.25H334.90z M281.80,71.10H324.00v12.25H281.80z M281.80,83.35H324.00v12.25H281.80z M334.90,83.35H346.00v12.25H334.90z M281.80,95.60H324.00v12.25H281.80z M281.80,107.85H313.60v12.25H281.80z M281.80,120.10H334.90v12.25H281.80z M281.80,132.35H334.90v12.25H281.80z M281.80,144.60H334.90v12.25H281.80z M281.80,156.85H334.90v12.25H281.80z M281.80,169.10H324.00v12.25H281.80z M281.80,181.35H334.90v12.25H281.80z M281.80,193.60H324.00v12.25H281.80z M281.80,205.85H334.90v12.25H281.80z M281.80,218.10H334.90v12.25H281.80z" fill="#080808"/>
<line x1="313.60" y1="9.85" x2="313.60" y2="230.35" stroke="#5a5a5a" stroke-width="0.9" />
<line x1="346.40" y1="9.85" x2="346.40" y2="230.35" stroke="#d8d8d8" stroke-width="0.8" />
<line x1="281.80" y1="46.60" x2="334.90" y2="46.60" stroke="#5a5a5a" stroke-width="0.9" />
<line x1="334.90" y1="46.60" x2="367.20" y2="46.60" stroke="#d8d8d8" stroke-width="0.8" />
<line x1="281.80" y1="83.35" x2="324.00" y2="83.35" stroke="#5a5a5a" stroke-width="0.9" />
<line x1="324.00" y1="83.35" x2="367.20" y2="83.35" stroke="#d8d8d8" stroke-width="0.8" />
<line x1="281.80" y1="120.10" x2="334.90" y2="120.10" stroke="#5a5a5a" stroke-width="0.9" />
<line x1="334.90" y1="120.10" x2="367.20" y2="120.10" stroke="#d8d8d8" stroke-width="0.8" />
<line x1="281.80" y1="156.85" x2="334.90" y2="156.85" stroke="#5a5a5a" stroke-width="0.9" />
<line x1="334.90" y1="156.85" x2="367.20" y2="156.85" stroke="#d8d8d8" stroke-width="0.8" />
<line x1="281.80" y1="193.60" x2="334.90" y2="193.60" stroke="#5a5a5a" stroke-width="0.9" />
<line x1="334.90" y1="193.60" x2="367.20" y2="193.60" stroke="#d8d8d8" stroke-width="0.8" />
<line x1="279.20" y1="17.35" x2="281.80" y2="17.35" stroke="#333" stroke-width="0.9" />
<line x1="279.20" y1="29.67" x2="281.80" y2="29.67" stroke="#333" stroke-width="0.9" />
<line x1="279.20" y1="41.99" x2="281.80" y2="41.99" stroke="#333" stroke-width="0.9" />
<line x1="279.20" y1="54.31" x2="281.80" y2="54.31" stroke="#333" stroke-width="0.9" />
<line x1="279.20" y1="66.63" x2="281.80" y2="66.63" stroke="#333" stroke-width="0.9" />
<line x1="279.20" y1="78.95" x2="281.80" y2="78.95" stroke="#333" stroke-width="0.9" />
<line x1="279.20" y1="91.27" x2="281.80" y2="91.27" stroke="#333" stroke-width="0.9" />
<line x1="279.20" y1="103.59" x2="281.80" y2="103.59" stroke="#333" stroke-width="0.9" />
<line x1="279.20" y1="115.91" x2="281.80" y2="115.91" stroke="#333" stroke-width="0.9" />
<line x1="279.20" y1="128.23" x2="281.80" y2="128.23" stroke="#333" stroke-width="0.9" />
<line x1="279.20" y1="140.55" x2="281.80" y2="140.55" stroke="#333" stroke-width="0.9" />
<line x1="279.20" y1="152.87" x2="281.80" y2="152.87" stroke="#333" stroke-width="0.9" />
<line x1="279.20" y1="165.19" x2="281.80" y2="165.19" stroke="#333" stroke-width="0.9" />
<line x1="279.20" y1="177.51" x2="281.80" y2="177.51" stroke="#333" stroke-width="0.9" />
<line x1="279.20" y1="189.83" x2="281.80" y2="189.83" stroke="#333" stroke-width="0.9" />
<line x1="279.20" y1="202.15" x2="281.80" y2="202.15" stroke="#333" stroke-width="0.9" />
<line x1="279.20" y1="214.47" x2="281.80" y2="214.47" stroke="#333" stroke-width="0.9" />
<line x1="281.80" y1="230.65" x2="367.08" y2="230.65" stroke="#9a9a9a" stroke-width="0.8" />
<line x1="285.50" y1="231.15" x2="285.50" y2="234.15" stroke="#333" stroke-width="1"/>
<line x1="296.50" y1="231.15" x2="296.50" y2="234.15" stroke="#333" stroke-width="1"/>
<line x1="307.50" y1="231.15" x2="307.50" y2="234.15" stroke="#333" stroke-width="1"/>
<line x1="317.50" y1="231.15" x2="317.50" y2="234.15" stroke="#333" stroke-width="1"/>
<line x1="328.50" y1="231.15" x2="328.50" y2="234.15" stroke="#333" stroke-width="1"/>
<line x1="339.50" y1="231.15" x2="339.50" y2="234.15" stroke="#333" stroke-width="1"/>
<line x1="349.50" y1="231.15" x2="349.50" y2="234.15" stroke="#333" stroke-width="1"/>
<line x1="360.50" y1="231.15" x2="360.50" y2="234.15" stroke="#333" stroke-width="1"/>
<rect x="375.10" y="22.70" width="11.10" height="11.70" fill="#080808" />
<rect x="375.60" y="42.70" width="10.10" height="9.60" fill="#fff" stroke="#999" stroke-width="1"/>
<text x="390.60" y="30.90" font-size="9" text-anchor="start" font-style="normal" font-weight="normal" fill="#1a1a1a" >Positive</text>
<text x="390.60" y="49.70" font-size="9" text-anchor="start" font-style="normal" font-weight="normal" fill="#1a1a1a" >Negative</text>
<rect x="281.80" y="245.40" width="64.20" height="11.90" fill="#080808" />
<line x1="313.50" y1="245.40" x2="313.50" y2="257.30" stroke="#5a5a5a" stroke-width="0.9" />
<line x1="281.80" y1="257.60" x2="367.08" y2="257.60" stroke="#9a9a9a" stroke-width="0.8" />
<line x1="285.50" y1="258.10" x2="285.50" y2="261.10" stroke="#333" stroke-width="1"/>
<line x1="296.50" y1="258.10" x2="296.50" y2="261.10" stroke="#333" stroke-width="1"/>
<line x1="307.50" y1="258.10" x2="307.50" y2="261.10" stroke="#333" stroke-width="1"/>
<line x1="317.50" y1="258.10" x2="317.50" y2="261.10" stroke="#333" stroke-width="1"/>
<line x1="328.50" y1="258.10" x2="328.50" y2="261.10" stroke="#333" stroke-width="1"/>
<line x1="339.50" y1="258.10" x2="339.50" y2="261.10" stroke="#333" stroke-width="1"/>
<line x1="349.50" y1="258.10" x2="349.50" y2="261.10" stroke="#333" stroke-width="1"/>
<line x1="360.50" y1="258.10" x2="360.50" y2="261.10" stroke="#333" stroke-width="1"/>
<text x="371.60" y="250.50" font-size="9" text-anchor="start" font-style="normal" font-weight="normal" fill="#1a1a1a" >Test Result</text>
<text x="371.60" y="260.50" font-size="9" text-anchor="start" font-style="italic" font-weight="normal" fill="#1a1a1a" >(parallel detection)</text>
<rect x="281.80" y="274.20" width="64.20" height="11.90" fill="#080808" />
<line x1="313.50" y1="274.20" x2="313.50" y2="286.10" stroke="#5a5a5a" stroke-width="0.9" />
<line x1="281.80" y1="286.40" x2="367.08" y2="286.40" stroke="#9a9a9a" stroke-width="0.8" />
<line x1="285.50" y1="286.90" x2="285.50" y2="289.90" stroke="#333" stroke-width="1"/>
<line x1="296.50" y1="286.90" x2="296.50" y2="289.90" stroke="#333" stroke-width="1"/>
<line x1="307.50" y1="286.90" x2="307.50" y2="289.90" stroke="#333" stroke-width="1"/>
<line x1="317.50" y1="286.90" x2="317.50" y2="289.90" stroke="#333" stroke-width="1"/>
<line x1="328.50" y1="286.90" x2="328.50" y2="289.90" stroke="#333" stroke-width="1"/>
<line x1="339.50" y1="286.90" x2="339.50" y2="289.90" stroke="#333" stroke-width="1"/>
<line x1="349.50" y1="286.90" x2="349.50" y2="289.90" stroke="#333" stroke-width="1"/>
<line x1="360.50" y1="286.90" x2="360.50" y2="289.90" stroke="#333" stroke-width="1"/>
<text x="371.60" y="279.30" font-size="9" text-anchor="start" font-style="normal" font-weight="normal" fill="#1a1a1a" >Test Result</text>
<text x="371.60" y="289.30" font-size="9" text-anchor="start" font-style="italic" font-weight="normal" fill="#1a1a1a" >(pooled detection)</text>
<rect x="281.80" y="301.00" width="42.20" height="11.90" fill="#080808" />
<line x1="314.00" y1="301.00" x2="314.00" y2="312.90" stroke="#5a5a5a" stroke-width="0.9" />
<line x1="346.50" y1="301.00" x2="346.50" y2="312.90" stroke="#d8d8d8" stroke-width="0.8" />
<line x1="281.80" y1="313.20" x2="367.08" y2="313.20" stroke="#9a9a9a" stroke-width="0.8" />
<line x1="285.50" y1="313.70" x2="285.50" y2="316.70" stroke="#333" stroke-width="1"/>
<line x1="296.50" y1="313.70" x2="296.50" y2="316.70" stroke="#333" stroke-width="1"/>
<line x1="307.50" y1="313.70" x2="307.50" y2="316.70" stroke="#333" stroke-width="1"/>
<line x1="317.50" y1="313.70" x2="317.50" y2="316.70" stroke="#333" stroke-width="1"/>
<line x1="328.50" y1="313.70" x2="328.50" y2="316.70" stroke="#333" stroke-width="1"/>
<line x1="339.50" y1="313.70" x2="339.50" y2="316.70" stroke="#333" stroke-width="1"/>
<line x1="349.50" y1="313.70" x2="349.50" y2="316.70" stroke="#333" stroke-width="1"/>
<line x1="360.50" y1="313.70" x2="360.50" y2="316.70" stroke="#333" stroke-width="1"/>
<text x="371.60" y="307.30" font-size="9" text-anchor="start" font-style="normal" font-weight="normal" fill="#1a1a1a" >Test Result</text>
<text x="371.60" y="317.54" font-size="9" text-anchor="start" font-style="italic" font-weight="normal" fill="#1a1a1a" >(singleplex detection)</text>
<polygon points="282.2,320.2 282.2,333.5 362.8,333.5" fill="#000"/>
<text x="0" y="0" font-size="7.9" text-anchor="start" fill="#1a1a1a" transform="translate(290.00,347.20) rotate(-90)">10<tspan font-size="4.7" dy="-2.5">3</tspan></text>
<text x="0" y="0" font-size="7.9" text-anchor="start" fill="#1a1a1a" transform="translate(300.90,347.20) rotate(-90)">10<tspan font-size="4.7" dy="-2.5">2</tspan></text>
<text x="0" y="0" font-size="7.9" text-anchor="start" fill="#1a1a1a" transform="translate(311.60,347.20) rotate(-90)">10<tspan font-size="4.7" dy="-2.5">1</tspan></text>
<text x="0" y="0" font-size="7.9" text-anchor="start" fill="#1a1a1a" transform="translate(322.30,347.20) rotate(-90)">10<tspan font-size="4.7" dy="-2.5">0</tspan></text>
<text x="0" y="0" font-size="7.9" text-anchor="start" fill="#1a1a1a" transform="translate(333.10,347.20) rotate(-90)">10<tspan font-size="4.7" dy="-2.5">-1</tspan></text>
<text x="0" y="0" font-size="7.9" text-anchor="start" fill="#1a1a1a" transform="translate(343.80,347.20) rotate(-90)">10<tspan font-size="4.7" dy="-2.5">-2</tspan></text>
<text x="0" y="0" font-size="7.9" text-anchor="start" fill="#1a1a1a" transform="translate(354.30,347.20) rotate(-90)">10<tspan font-size="4.7" dy="-2.5">-3</tspan></text>
<text x="0" y="0" font-size="8.6" text-anchor="start" fill="#1a1a1a" transform="translate(364.90,346.90) rotate(-90)">ntc</text>
<text x="340.80" y="360.90" font-size="9" text-anchor="middle" font-style="normal" font-weight="normal" fill="#1a1a1a" >M. <tspan font-style="italic">tuberculosis</tspan> genome equivalents</text>
<text x="340.40" y="370.90" font-size="9" text-anchor="middle" font-style="normal" font-weight="normal" fill="#1a1a1a" >per reaction</text>
<text x="450.60" y="6.20" font-size="10.3" text-anchor="start" font-style="normal" font-weight="bold" fill="#111" >c</text>
<text x="591.20" y="19.10" font-size="9" text-anchor="middle" font-style="normal" font-weight="normal" fill="#1a1a1a" >WATSON (pooled detection)</text>
<text x="0" y="0" font-size="9" text-anchor="middle" fill="#1a1a1a" transform="translate(474.7,167.2) rotate(-90)">Background subtracted fluorescence (a.u.)</text>
<line x1="509.50" y1="50.30" x2="509.50" y2="129.50" stroke="#333" stroke-width="0.9" />
<line x1="509.50" y1="129.50" x2="678.60" y2="129.50" stroke="#333" stroke-width="0.9" />
<line x1="507.00" y1="123.30" x2="509.50" y2="123.30" stroke="#333" stroke-width="0.9" />
<text x="505.60" y="127.10" font-size="9" text-anchor="end" font-style="normal" font-weight="normal" fill="#1a1a1a" >0</text>
<line x1="507.00" y1="95.60" x2="509.50" y2="95.60" stroke="#333" stroke-width="0.9" />
<text x="505.60" y="99.40" font-size="9" text-anchor="end" font-style="normal" font-weight="normal" fill="#1a1a1a" >500</text>
<line x1="507.00" y1="67.90" x2="509.50" y2="67.90" stroke="#333" stroke-width="0.9" />
<text x="505.60" y="71.70" font-size="9" text-anchor="end" font-style="normal" font-weight="normal" fill="#1a1a1a" >1000</text>
<line x1="520.30" y1="129.50" x2="520.30" y2="131.80" stroke="#333" stroke-width="0.9" />
<text x="521.40" y="42.70" font-size="9" text-anchor="middle" font-style="normal" font-weight="normal" fill="#1a1a1a" >6/6</text>
<text x="514.00" y="141.90" font-size="8.6" fill="#1a1a1a">10<tspan font-size="4.7" dy="-2.3">3</tspan></text>
<line x1="541.30" y1="129.50" x2="541.30" y2="131.80" stroke="#333" stroke-width="0.9" />
<text x="541.40" y="42.70" font-size="9" text-anchor="middle" font-style="normal" font-weight="normal" fill="#1a1a1a" >6/6</text>
<text x="535.00" y="141.90" font-size="8.6" fill="#1a1a1a">10<tspan font-size="4.7" dy="-2.3">2</tspan></text>
<line x1="562.30" y1="129.50" x2="562.30" y2="131.80" stroke="#333" stroke-width="0.9" />
<text x="563.10" y="42.70" font-size="9" text-anchor="middle" font-style="normal" font-weight="normal" fill="#1a1a1a" >6/6</text>
<text x="556.00" y="141.90" font-size="8.6" fill="#1a1a1a">10<tspan font-size="4.7" dy="-2.3">1</tspan></text>
<line x1="583.00" y1="129.50" x2="583.00" y2="131.80" stroke="#333" stroke-width="0.9" />
<text x="584.00" y="42.70" font-size="9" text-anchor="middle" font-style="normal" font-weight="normal" fill="#1a1a1a" >6/6</text>
<text x="576.70" y="141.90" font-size="8.6" fill="#1a1a1a">10<tspan font-size="4.7" dy="-2.3">0</tspan></text>
<line x1="604.00" y1="129.50" x2="604.00" y2="131.80" stroke="#333" stroke-width="0.9" />
<text x="604.90" y="42.70" font-size="9" text-anchor="middle" font-style="normal" font-weight="normal" fill="#1a1a1a" >6/6</text>
<text x="598.30" y="141.90" font-size="8.6" fill="#1a1a1a">10<tspan font-size="4.7" dy="-2.3">-1</tspan></text>
<line x1="625.50" y1="129.50" x2="625.50" y2="131.80" stroke="#333" stroke-width="0.9" />
<text x="626.20" y="42.70" font-size="9" text-anchor="middle" font-style="normal" font-weight="normal" fill="#1a1a1a" >4/6</text>
<text x="619.80" y="141.90" font-size="8.6" fill="#1a1a1a">10<tspan font-size="4.7" dy="-2.3">-2</tspan></text>
<line x1="646.00" y1="129.50" x2="646.00" y2="131.80" stroke="#333" stroke-width="0.9" />
<text x="647.50" y="42.70" font-size="9" text-anchor="middle" font-style="normal" font-weight="normal" fill="#1a1a1a" >0/6</text>
<text x="640.30" y="141.90" font-size="8.6" fill="#1a1a1a">10<tspan font-size="4.7" dy="-2.3">-3</tspan></text>
<line x1="667.00" y1="129.50" x2="667.00" y2="131.80" stroke="#333" stroke-width="0.9" />
<text x="669.50" y="42.70" font-size="9" text-anchor="middle" font-style="normal" font-weight="normal" fill="#1a1a1a" >0/6</text>
<text x="667.00" y="141.90" font-size="8.6" text-anchor="middle" font-style="normal" font-weight="normal" fill="#1a1a1a" >ntc</text>
<line x1="520.30" y1="54.20" x2="520.30" y2="55.30" stroke="#333" stroke-width="0.9" />
<line x1="515.80" y1="54.20" x2="524.80" y2="54.20" stroke="#333" stroke-width="0.9" />
<line x1="520.30" y1="64.30" x2="520.30" y2="65.00" stroke="#333" stroke-width="0.9" />
<line x1="515.80" y1="65.00" x2="524.80" y2="65.00" stroke="#333" stroke-width="0.9" />
<rect x="511.80" y="55.30" width="17.00" height="9.00" fill="#2e9a2e" stroke="#333" stroke-width="0.9"/>
<line x1="511.80" y1="62.50" x2="528.80" y2="62.50" stroke="#333" stroke-width="1.0" />
<circle cx="519.70" cy="53.80" r="2.2" fill="#000"/>
<circle cx="519.70" cy="55.80" r="2.2" fill="#000"/>
<circle cx="519.00" cy="62.10" r="2.2" fill="#000"/>
<circle cx="518.50" cy="65.10" r="2.2" fill="#000"/>
<line x1="541.35" y1="56.00" x2="541.35" y2="59.30" stroke="#333" stroke-width="0.9" />
<line x1="536.85" y1="56.00" x2="545.85" y2="56.00" stroke="#333" stroke-width="0.9" />
<line x1="541.35" y1="63.70" x2="541.35" y2="65.30" stroke="#333" stroke-width="0.9" />
<line x1="536.85" y1="65.30" x2="545.85" y2="65.30" stroke="#333" stroke-width="0.9" />
<rect x="532.90" y="59.30" width="16.90" height="4.40" fill="#2e9a2e" stroke="#333" stroke-width="0.9"/>
<line x1="532.90" y1="61.50" x2="549.80" y2="61.50" stroke="#333" stroke-width="1.0" />
<circle cx="540.50" cy="55.50" r="2.2" fill="#000"/>
<circle cx="541.00" cy="59.50" r="2.2" fill="#000"/>
<circle cx="541.50" cy="62.80" r="2.2" fill="#000"/>
<circle cx="543.00" cy="65.50" r="2.2" fill="#000"/>
<line x1="562.10" y1="60.60" x2="562.10" y2="64.20" stroke="#333" stroke-width="0.9" />
<line x1="557.60" y1="64.20" x2="566.60" y2="64.20" stroke="#333" stroke-width="0.9" />
<rect x="553.30" y="54.20" width="17.60" height="6.40" fill="#2e9a2e" stroke="#333" stroke-width="0.9"/>
<line x1="553.30" y1="57.60" x2="570.90" y2="57.60" stroke="#333" stroke-width="1.0" />
<circle cx="561.30" cy="52.90" r="2.2" fill="#000"/>
<circle cx="563.60" cy="54.60" r="2.2" fill="#000"/>
<circle cx="562.00" cy="57.30" r="2.2" fill="#000"/>
<circle cx="561.60" cy="59.00" r="2.2" fill="#000"/>
<circle cx="559.80" cy="64.40" r="2.2" fill="#000"/>
<rect x="574.30" y="63.90" width="17.40" height="3.40" fill="#2e9a2e" stroke="#333" stroke-width="0.9"/>
<line x1="574.30" y1="65.40" x2="591.70" y2="65.40" stroke="#333" stroke-width="1.0" />
<circle cx="580.60" cy="64.20" r="2.2" fill="#000"/>
<circle cx="582.40" cy="62.50" r="2.2" fill="#000"/>
<circle cx="584.30" cy="63.60" r="2.2" fill="#000"/>
<circle cx="583.00" cy="65.50" r="2.2" fill="#000"/>
<circle cx="581.40" cy="67.00" r="2.2" fill="#000"/>
<circle cx="584.00" cy="67.50" r="2.2" fill="#000"/>
<circle cx="583.00" cy="69.00" r="2.2" fill="#000"/>
<line x1="603.85" y1="54.00" x2="603.85" y2="57.40" stroke="#333" stroke-width="0.9" />
<line x1="599.35" y1="54.00" x2="608.35" y2="54.00" stroke="#333" stroke-width="0.9" />
<line x1="603.85" y1="63.40" x2="603.85" y2="66.10" stroke="#333" stroke-width="0.9" />
<line x1="599.35" y1="66.10" x2="608.35" y2="66.10" stroke="#333" stroke-width="0.9" />
<rect x="595.20" y="57.40" width="17.30" height="6.00" fill="#2e9a2e" stroke="#333" stroke-width="0.9"/>
<line x1="595.20" y1="58.10" x2="612.50" y2="58.10" stroke="#333" stroke-width="1.0" />
<circle cx="604.30" cy="53.40" r="2.2" fill="#000"/>
<circle cx="603.00" cy="56.60" r="2.2" fill="#000"/>
<circle cx="604.50" cy="58.30" r="2.2" fill="#000"/>
<circle cx="602.60" cy="59.30" r="2.2" fill="#000"/>
<circle cx="602.80" cy="63.80" r="2.2" fill="#000"/>
<circle cx="604.20" cy="65.20" r="2.2" fill="#000"/>
<circle cx="605.00" cy="66.80" r="2.2" fill="#000"/>
<line x1="624.95" y1="54.60" x2="624.95" y2="70.90" stroke="#333" stroke-width="0.9" />
<line x1="620.45" y1="54.60" x2="629.45" y2="54.60" stroke="#333" stroke-width="0.9" />
<line x1="624.95" y1="100.30" x2="624.95" y2="120.90" stroke="#333" stroke-width="0.9" />
<line x1="620.45" y1="120.90" x2="629.45" y2="120.90" stroke="#333" stroke-width="0.9" />
<rect x="616.40" y="70.90" width="17.10" height="29.40" fill="#2e9a2e" stroke="#333" stroke-width="0.9"/>
<line x1="616.40" y1="75.00" x2="633.50" y2="75.00" stroke="#333" stroke-width="1.0" />
<circle cx="625.50" cy="54.60" r="2.2" fill="#000"/>
<circle cx="625.30" cy="70.80" r="2.2" fill="#000"/>
<circle cx="625.80" cy="75.20" r="2.2" fill="#000"/>
<circle cx="623.00" cy="82.50" r="2.2" fill="#000"/>
<circle cx="624.80" cy="118.50" r="2.2" fill="#000"/>
<circle cx="625.00" cy="121.00" r="2.2" fill="#000"/>
<line x1="636.90" y1="122.40" x2="654.00" y2="122.40" stroke="#333" stroke-width="1.1" />
<circle cx="645.00" cy="120.00" r="2.2" fill="#000"/>
<circle cx="646.40" cy="121.30" r="2.2" fill="#000"/>
<circle cx="645.30" cy="122.50" r="2.2" fill="#000"/>
<circle cx="647.10" cy="122.50" r="2.2" fill="#000"/>
<circle cx="645.90" cy="122.80" r="2.2" fill="#000"/>
<circle cx="644.90" cy="121.50" r="2.2" fill="#000"/>
<line x1="657.90" y1="122.40" x2="674.50" y2="122.40" stroke="#333" stroke-width="1.1" />
<circle cx="664.90" cy="122.60" r="2.2" fill="#000"/>
<circle cx="666.90" cy="122.60" r="2.2" fill="#000"/>
<circle cx="665.90" cy="122.60" r="2.2" fill="#000"/>
<line x1="625.50" y1="46.80" x2="625.50" y2="131.60" stroke="#d62728" stroke-width="1.1" stroke-dasharray="3.5,2.5"/>
<text x="590.10" y="184.60" font-size="9" text-anchor="middle" font-style="normal" font-weight="normal" fill="#1a1a1a" >Singleplex SHERLOCK</text>
<line x1="515.50" y1="206.70" x2="515.50" y2="288.50" stroke="#333" stroke-width="0.9" />
<line x1="515.50" y1="288.50" x2="684.50" y2="288.50" stroke="#333" stroke-width="0.9" />
<line x1="513.00" y1="283.80" x2="515.50" y2="283.80" stroke="#333" stroke-width="0.9" />
<text x="511.60" y="287.10" font-size="9" text-anchor="end" font-style="normal" font-weight="normal" fill="#1a1a1a" >0</text>
<line x1="513.00" y1="255.30" x2="515.50" y2="255.30" stroke="#333" stroke-width="0.9" />
<text x="511.60" y="258.60" font-size="9" text-anchor="end" font-style="normal" font-weight="normal" fill="#1a1a1a" >500</text>
<line x1="513.00" y1="226.80" x2="515.50" y2="226.80" stroke="#333" stroke-width="0.9" />
<text x="511.60" y="230.10" font-size="9" text-anchor="end" font-style="normal" font-weight="normal" fill="#1a1a1a" >1000</text>
<line x1="526.00" y1="288.50" x2="526.00" y2="290.80" stroke="#333" stroke-width="0.9" />
<text x="526.60" y="199.30" font-size="9" text-anchor="middle" font-style="normal" font-weight="normal" fill="#1a1a1a" >6/6</text>
<text x="519.70" y="300.60" font-size="8.6" fill="#1a1a1a">10<tspan font-size="4.7" dy="-2.3">3</tspan></text>
<line x1="547.00" y1="288.50" x2="547.00" y2="290.80" stroke="#333" stroke-width="0.9" />
<text x="546.80" y="199.30" font-size="9" text-anchor="middle" font-style="normal" font-weight="normal" fill="#1a1a1a" >6/6</text>
<text x="540.70" y="300.60" font-size="8.6" fill="#1a1a1a">10<tspan font-size="4.7" dy="-2.3">2</tspan></text>
<line x1="568.50" y1="288.50" x2="568.50" y2="290.80" stroke="#333" stroke-width="0.9" />
<text x="568.30" y="199.30" font-size="9" text-anchor="middle" font-style="normal" font-weight="normal" fill="#1a1a1a" >6/6</text>
<text x="562.20" y="300.60" font-size="8.6" fill="#1a1a1a">10<tspan font-size="4.7" dy="-2.3">1</tspan></text>
<line x1="589.30" y1="288.50" x2="589.30" y2="290.80" stroke="#333" stroke-width="0.9" />
<text x="588.90" y="199.30" font-size="9" text-anchor="middle" font-style="normal" font-weight="normal" fill="#1a1a1a" >6/6</text>
<text x="583.00" y="300.60" font-size="8.6" fill="#1a1a1a">10<tspan font-size="4.7" dy="-2.3">0</tspan></text>
<line x1="610.40" y1="288.50" x2="610.40" y2="290.80" stroke="#333" stroke-width="0.9" />
<text x="609.60" y="199.30" font-size="9" text-anchor="middle" font-style="normal" font-weight="normal" fill="#1a1a1a" >3/6</text>
<text x="604.70" y="300.60" font-size="8.6" fill="#1a1a1a">10<tspan font-size="4.7" dy="-2.3">-1</tspan></text>
<line x1="631.40" y1="288.50" x2="631.40" y2="290.80" stroke="#333" stroke-width="0.9" />
<text x="630.80" y="199.30" font-size="9" text-anchor="middle" font-style="normal" font-weight="normal" fill="#1a1a1a" >0/6</text>
<text x="625.70" y="300.60" font-size="8.6" fill="#1a1a1a">10<tspan font-size="4.7" dy="-2.3">-2</tspan></text>
<line x1="652.60" y1="288.50" x2="652.60" y2="290.80" stroke="#333" stroke-width="0.9" />
<text x="652.30" y="199.30" font-size="9" text-anchor="middle" font-style="normal" font-weight="normal" fill="#1a1a1a" >0/6</text>
<text x="646.90" y="300.60" font-size="8.6" fill="#1a1a1a">10<tspan font-size="4.7" dy="-2.3">-3</tspan></text>
<line x1="673.60" y1="288.50" x2="673.60" y2="290.80" stroke="#333" stroke-width="0.9" />
<text x="674.00" y="199.30" font-size="9" text-anchor="middle" font-style="normal" font-weight="normal" fill="#1a1a1a" >0/6</text>
<text x="673.60" y="300.60" font-size="8.6" text-anchor="middle" font-style="normal" font-weight="normal" fill="#1a1a1a" >ntc</text>
<rect x="517.40" y="218.10" width="17.30" height="5.60" fill="#e2821f" stroke="#6b5a4a" stroke-width="0.9"/>
<line x1="517.40" y1="220.80" x2="534.70" y2="220.80" stroke="#6b5a4a" stroke-width="1.0" />
<circle cx="525.00" cy="215.50" r="2.2" fill="#000"/>
<circle cx="525.30" cy="217.50" r="2.2" fill="#000"/>
<circle cx="527.50" cy="222.00" r="2.2" fill="#000"/>
<circle cx="523.50" cy="224.00" r="2.2" fill="#000"/>
<rect x="538.40" y="214.40" width="17.30" height="5.10" fill="#e2821f" stroke="#6b5a4a" stroke-width="0.9"/>
<line x1="538.40" y1="217.10" x2="555.70" y2="217.10" stroke="#6b5a4a" stroke-width="1.0" />
<circle cx="546.80" cy="213.00" r="2.2" fill="#000"/>
<circle cx="548.50" cy="214.20" r="2.2" fill="#000"/>
<circle cx="548.00" cy="218.00" r="2.2" fill="#000"/>
<circle cx="545.20" cy="220.50" r="2.2" fill="#000"/>
<line x1="568.45" y1="212.20" x2="568.45" y2="216.00" stroke="#6b5a4a" stroke-width="0.9" />
<line x1="563.95" y1="212.20" x2="572.95" y2="212.20" stroke="#6b5a4a" stroke-width="0.9" />
<line x1="568.45" y1="221.30" x2="568.45" y2="223.70" stroke="#6b5a4a" stroke-width="0.9" />
<line x1="563.95" y1="223.70" x2="572.95" y2="223.70" stroke="#6b5a4a" stroke-width="0.9" />
<rect x="559.80" y="216.00" width="17.30" height="5.30" fill="#e2821f" stroke="#6b5a4a" stroke-width="0.9"/>
<line x1="559.80" y1="218.80" x2="577.10" y2="218.80" stroke="#6b5a4a" stroke-width="1.0" />
<circle cx="567.80" cy="212.20" r="2.2" fill="#000"/>
<circle cx="570.20" cy="217.50" r="2.2" fill="#000"/>
<circle cx="569.80" cy="219.80" r="2.2" fill="#000"/>
<circle cx="568.20" cy="223.80" r="2.2" fill="#000"/>
<rect x="580.80" y="232.90" width="17.40" height="5.30" fill="#e2821f" stroke="#6b5a4a" stroke-width="0.9"/>
<line x1="580.80" y1="235.40" x2="598.20" y2="235.40" stroke="#6b5a4a" stroke-width="1.0" />
<circle cx="588.00" cy="230.90" r="2.2" fill="#000"/>
<circle cx="588.00" cy="234.00" r="2.2" fill="#000"/>
<circle cx="588.20" cy="236.80" r="2.2" fill="#000"/>
<rect x="601.90" y="235.80" width="17.30" height="47.80" fill="#e2821f" stroke="#6b5a4a" stroke-width="0.9"/>
<line x1="601.90" y1="260.50" x2="619.20" y2="260.50" stroke="#6b5a4a" stroke-width="1.0" />
<circle cx="610.00" cy="235.80" r="2.2" fill="#000"/>
<circle cx="612.60" cy="237.50" r="2.2" fill="#000"/>
<circle cx="608.60" cy="283.50" r="2.2" fill="#000"/>
<circle cx="612.60" cy="283.50" r="2.2" fill="#000"/>
<line x1="622.60" y1="283.50" x2="640.40" y2="283.50" stroke="#333" stroke-width="1.1" />
<circle cx="630.20" cy="283.40" r="2.2" fill="#000"/>
<circle cx="631.80" cy="283.40" r="2.2" fill="#000"/>
<line x1="643.60" y1="283.60" x2="661.80" y2="283.60" stroke="#333" stroke-width="1.1" />
<circle cx="652.80" cy="283.50" r="2.2" fill="#000"/>
<line x1="665.00" y1="283.60" x2="682.20" y2="283.60" stroke="#333" stroke-width="1.1" />
<circle cx="673.40" cy="283.50" r="2.2" fill="#000"/>
<line x1="610.40" y1="206.80" x2="610.40" y2="291.40" stroke="#d62728" stroke-width="1.1" stroke-dasharray="3.5,2.5"/>
<text x="597.70" y="327.40" font-size="9" text-anchor="middle" font-style="normal" font-weight="normal" fill="#1a1a1a" >M. <tspan font-style="italic">tuberculosis</tspan> genome equivalents</text>
<text x="597.80" y="337.60" font-size="9" text-anchor="middle" font-style="normal" font-weight="normal" fill="#1a1a1a" >per reaction</text>
</svg></body></html>
